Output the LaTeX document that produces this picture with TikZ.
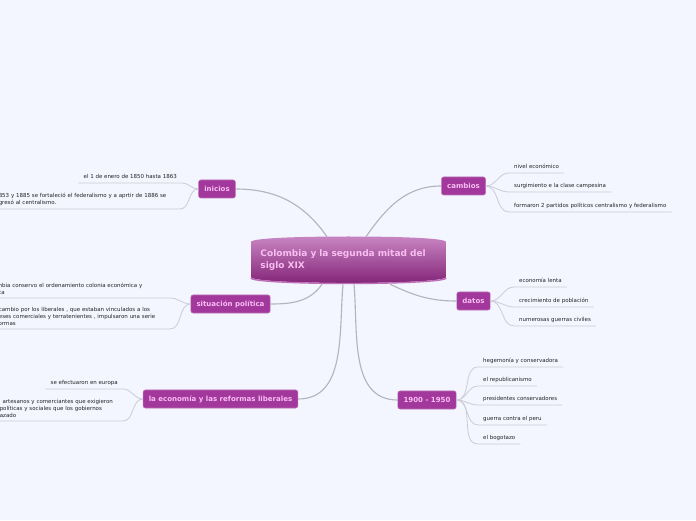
\documentclass[tikz,border=0pt]{standalone}
\usepackage{fontspec}
\setmainfont{DejaVu Sans}
\usepackage{xcolor}
\definecolor{mmback}{RGB}{243,246,254}
\definecolor{mmpurple}{RGB}{162,55,156}
\definecolor{mmrim}{RGB}{190,110,182}
\definecolor{mmpink}{RGB}{248,190,242}
\definecolor{mmline}{RGB}{180,180,190}
\definecolor{mmunder}{RGB}{205,205,215}
\definecolor{mmtext}{RGB}{35,35,40}
\definecolor{mmtop}{RGB}{200,132,194}
\definecolor{mmbottom}{RGB}{132,38,120}
\usepackage{tikz}
\usetikzlibrary{positioning,calc}

\begin{document}
\begin{tikzpicture}[x=0.025cm, y=0.025cm,
  root/.style={text=mmpink, font=\fontsize{6.4}{8.5}\selectfont\bfseries, align=left, text width=4.4cm, minimum width=4.875cm, minimum height=1.15cm, inner sep=0pt},
  topic/.style={fill=mmpurple, draw=mmrim, line width=0.4pt, rounded corners=1.5pt, text=mmpink, font=\fontsize{5}{6}\selectfont\bfseries, minimum height=0.45cm, inner xsep=4pt},
  leaf/.style={text=mmtext, font=\fontsize{3.9}{5}\selectfont, inner xsep=3.5pt, inner ysep=2.2pt, text depth=1pt},
  leafwide/.style={text=mmtext, font=\fontsize{3.9}{5}\selectfont, inner xsep=3.5pt, inner ysep=2.2pt, align=left},
  link/.style={draw=mmline, line width=0.8pt},
  under/.style={draw=mmunder, line width=0.6pt}]
\fill[mmback] (0,0) rectangle (696,520);
\useasboundingbox (0,0) rectangle (696,520);

% central topic
\shade[top color=mmtop, bottom color=mmbottom] (251,243) -- (251,278) .. controls (251,282) and (300,283.5) .. (348.5,283.5) .. controls (397,283.5) and (446,282) .. (446,278) -- (446,243) .. controls (446,239) and (397,237) .. (348.5,237) .. controls (300,237) and (251,239) .. (251,243) -- cycle;
\draw[mmrim, line width=1pt] (251,242) .. controls (251,238.5) and (300,236.5) .. (348.5,236.5) .. controls (397,236.5) and (446,238.5) .. (446,242);
\node[root] (root) at (348.5,260) {Colombia y la segunda mitad del\\siglo XIX};

% main topics
\node[topic] (inicios) at (217,331) {inicios};
\node[topic] (cambios) at (463.5,334) {cambios};
\node[topic] (datos) at (473.5,219) {datos};
\node[topic] (situacion) at (230.5,216) {situación política};
\node[topic] (economia) at (220.5,121) {la economía y las reformas liberales};
\node[topic] (epoca) at (427,120) {1900 - 1950};

\draw[link] (inicios.east) to[out=0, in=125] ($(root.north)+(-21.5,0)$);
\draw[link] (cambios.west) to[out=180, in=55] ($(root.north)+(17.5,0)$);
\draw[link] (datos.west) to[out=180, in=-25] ($(root.south)+(41.5,-1)$);
\draw[link] (situacion.east) to[out=0, in=-125] ($(root.south)+(-26.5,-1)$);
\draw[link] (economia.east) to[out=0, in=-95] ($(root.south)+(-5.5,-1)$);
\draw[link] (epoca.west) to[out=180, in=-85] ($(root.south)+(5.5,-1)$);

% cambios
\node[leaf, anchor=south west] (cam1) at (509,347) {nivel económico};
\node[leaf, anchor=south west] (cam2) at (509,328) {surgimiento e la clase campesina};
\node[leaf, anchor=south west] (cam3) at (509,308) {formaron 2 partidos políticos centralismo y federalismo};
\foreach \n in {cam1,cam2,cam3}
  \draw[under] (cambios.east) to[out=0, in=180] (\n.south west) -- (\n.south east);

% datos
\node[leaf, anchor=south west] (dat1) at (514,233) {economía lenta};
\node[leaf, anchor=south west] (dat2) at (514,213) {crecimiento de población};
\node[leaf, anchor=south west] (dat3) at (514,194) {numerosas guerras civiles};
\foreach \n in {dat1,dat2,dat3}
  \draw[under] (datos.east) to[out=0, in=180] (\n.south west) -- (\n.south east);

% 1900 - 1950
\node[leaf, anchor=south west] (epo1) at (478,153) {hegemonía y conservadora};
\node[leaf, anchor=south west] (epo2) at (478,134) {el republicanismo};
\node[leaf, anchor=south west] (epo3) at (478,115) {presidentes conservadores};
\node[leaf, anchor=south west] (epo4) at (478,95) {guerra contra el peru};
\node[leaf, anchor=south west] (epo5) at (478,76) {el bogotazo};
\foreach \n in {epo1,epo2,epo3,epo4,epo5}
  \draw[under] (epoca.east) to[out=0, in=180] (\n.south west) -- (\n.south east);

% inicios
\node[leaf, anchor=south east] (ini1) at (182,337) {el 1 de enero de 1850 hasta 1863};
\node[leafwide, anchor=south east, text width=4.4cm] (ini2) at (180,311) {853 y 1885 se fortaleció el federalismo y a aprtir de 1886 se\\gresó al centralismo.};
\foreach \n in {ini1,ini2}
  \draw[under] (inicios.west) to[out=180, in=0] (\n.south east) -- (\n.south west);

% situacion politica
\node[leafwide, anchor=south east, text width=4.2cm] (sit1) at (170,222) {mbia conservo el ordenamiento colonia económica y\\ica};
\node[leafwide, anchor=south east, text width=4.2cm] (sit2) at (170,191) {\hspace{1.5pt}cambio por los liberales , que estaban vinculados a los\\reses comerciales y terratenientes , impulsaron una serie\\formas};
\foreach \n in {sit1,sit2}
  \draw[under] (situacion.west) to[out=180, in=0] (\n.south east) -- (\n.south west);

% economia
\node[leaf, anchor=south east] (eco1) at (123,131) {se efectuaron en europa};
\node[leafwide, anchor=south east, text width=2.95cm] (eco2) at (123,99) {\hspace{2pt}artesanos y comerciantes que exigieron\\políticas y sociales que los gobiernos\\azado};
\foreach \n in {eco1,eco2}
  \draw[under] (economia.west) to[out=180, in=0] (\n.south east) -- (\n.south west);
\end{tikzpicture}
\end{document}
